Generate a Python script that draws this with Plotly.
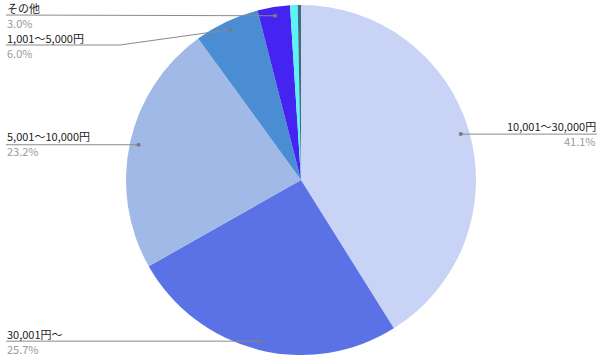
import math
import plotly.graph_objects as go

# ---- data ----
labels = ["10,001〜30,000円", "30,001円〜", "5,001〜10,000円", "1,001〜5,000円", "その他", "1,000円以下", "無回答"]
values = [41.1, 25.7, 23.2, 6.0, 3.0, 0.7, 0.3]
pct_text = ["41.1%", "25.7%", "23.2%", "6.0%", "3.0%", "", ""]
show_label = [True, True, True, True, True, False, False]
colors = ["#c8d3f6", "#5b71e6", "#a0b9e6", "#4a8dd2", "#4523f0", "#5df2f7", "#3e6e7e"]

# ---- layout geometry (pixels) ----
W, H = 600, 361
CX, CY, R = 301, 180, 175
DOT_R = 0.95 * R
label_side = ["right", "left", "left", "left", "left", None, None]
line_y_override = [None, None, None, 45, 15, None, None]
name_off = [-8, -7.5, -8.5, -7.5, -7.5, 0, 0]
pct_off = [7, 7.5, 6.5, 7.6, 7.6, 0, 0]
FS = 11

def px(x):
    return x / W

def py(y):
    return 1 - y / H

fig = go.Figure(go.Pie(
    labels=labels, values=values, sort=False, direction="clockwise", rotation=0,
    marker=dict(colors=colors, line=dict(width=0)),
    textinfo="none", hoverinfo="label+percent", showlegend=False,
    domain=dict(x=[px(CX - R), px(CX + R)], y=[py(CY + R), py(CY - R)]),
))

total = sum(values)
cum = 0.0
shapes = []
annotations = []
for i, v in enumerate(values):
    mid = (cum + v / 2) / total * 2 * math.pi
    cum += v
    if not show_label[i]:
        continue
    dx = CX + DOT_R * math.sin(mid)
    dy = CY - DOT_R * math.cos(mid)
    ly = line_y_override[i] if line_y_override[i] is not None else dy
    if label_side[i] == "right":
        lx_end = 597
        xanchor = "right"
        elbow_x = None
    else:
        lx_end = 6
        xanchor = "left"
        elbow_x = 120 if line_y_override[i] is not None and abs(ly - dy) > 3 else None
    if elbow_x is not None:
        path = f"M {px(lx_end)},{py(ly)} L {px(elbow_x)},{py(ly)} L {px(dx)},{py(dy)}"
    else:
        path = f"M {px(lx_end)},{py(ly)} L {px(dx)},{py(dy)}"
    shapes.append(dict(type="path", xref="paper", yref="paper", path=path,
                       line=dict(color="#8a8a8a", width=1)))
    shapes.append(dict(type="circle", xref="paper", yref="paper",
                       x0=px(dx - 2), x1=px(dx + 2), y0=py(dy + 2), y1=py(dy - 2),
                       fillcolor="#7a7a7a", line=dict(width=0)))
    annotations.append(dict(x=px(lx_end), y=py(ly + name_off[i]), xref="paper", yref="paper",
                            text=labels[i], showarrow=False, xanchor=xanchor, yanchor="middle",
                            borderpad=0,
                            font=dict(size=FS, color="#222222", family="Noto Sans CJK JP")))
    annotations.append(dict(x=px(lx_end), y=py(ly + pct_off[i]), xref="paper", yref="paper",
                            text=pct_text[i], showarrow=False, xanchor=xanchor, yanchor="middle",
                            borderpad=0,
                            font=dict(size=FS, color="#9a9a9a", family="Noto Sans CJK JP")))

fig.update_layout(width=W, height=H, margin=dict(l=0, r=0, t=0, b=0),
                  paper_bgcolor="white", plot_bgcolor="white",
                  shapes=shapes, annotations=annotations)
fig.write_html("out.html")
